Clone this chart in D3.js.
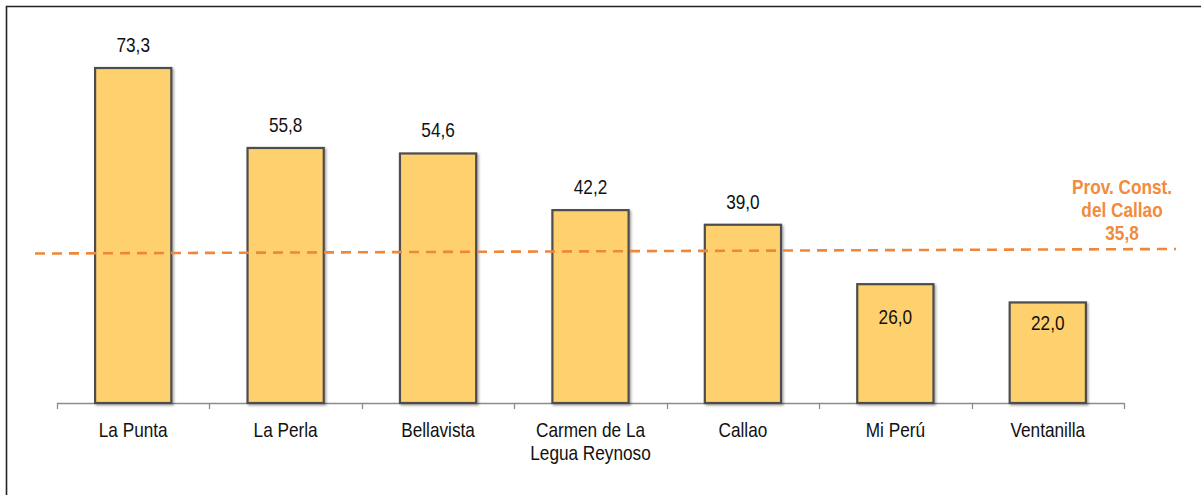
<!DOCTYPE html>
<html><head><meta charset="utf-8">
<script src="https://cdn.jsdelivr.net/npm/d3@7"></script>
<style>body{margin:0;background:#fff}svg{display:block}text{font-family:"Liberation Sans",Arial,sans-serif}</style>
</head><body>
<svg id="c" width="1201" height="495"></svg>
<script>
const categories = ["La Punta","La Perla","Bellavista","Carmen de La\nLegua Reynoso","Callao","Mi Perú","Ventanilla"];
const values = [73.3, 55.8, 54.6, 42.2, 39.0, 26.0, 22.0];
const labelInside = [false,false,false,false,false,true,true];
const provValue = 35.8;
const provLabel = ["Prov. Const.","del Callao","35,8"];
const provLineEnds = [32.7, 33.7]; // drawn level at left and right end

const fmt = v => v.toFixed(1).replace(".", ",");
const svg = d3.select("#c");
const NARROW = 0.82;

// narrow text helper: places text at (px,py) condensed horizontally
function ntext(sel, px, py) {
  return sel.append("g").attr("transform",`translate(${px},${py}) scale(${NARROW},1)`).append("text").attr("x",0).attr("y",0);
}

// frame
svg.append("path").attr("d","M6.5,500 V6.5 H1210").attr("fill","none").attr("stroke","#222").attr("stroke-width",1.6);

const x = d3.scaleBand().domain(categories).range([57,1124]).paddingInner(0.5).paddingOuter(0.25);
const y = d3.scaleLinear().domain([0,73.3]).range([403,68]);

const defs = svg.append("defs");
const f = defs.append("filter").attr("id","sh").attr("x","-10%").attr("y","-10%").attr("width","130%").attr("height","130%");
f.append("feDropShadow").attr("dx",1.5).attr("dy",1.5).attr("stdDeviation",1).attr("flood-color","#000").attr("flood-opacity",0.35);

// axis
const axis = svg.append("g");
axis.append("line").attr("x1",57).attr("x2",1124).attr("y1",403.5).attr("y2",403.5).attr("stroke","#8c8c8c").attr("stroke-width",1.3);
const bounds = categories.map((c,i) => i===0 ? 57 : x(c) - x.step()*x.paddingInner()/2);
bounds.push(1124);
axis.selectAll("line.t").data(bounds).enter().append("line").attr("class","t")
  .attr("x1",d=>Math.round(d)+0.5).attr("x2",d=>Math.round(d)+0.5).attr("y1",403).attr("y2",409)
  .attr("stroke","#8c8c8c").attr("stroke-width",1.3);

// bars
svg.selectAll("rect.bar").data(values).enter().append("rect").attr("class","bar")
  .attr("x",(d,i)=>x(categories[i])).attr("width",x.bandwidth())
  .attr("y",d=>y(d)).attr("height",d=>y(0)-y(d))
  .attr("fill","#FFD06E").attr("stroke","#4d4d4d").attr("stroke-width",2.2)
  .attr("filter","url(#sh)");

// value labels
values.forEach((d,i)=>{
  const cx = x(categories[i])+x.bandwidth()/2;
  const cy = labelInside[i] ? y(d)+(i===5?40:28) : y(d)-16;
  ntext(svg,cx,cy).attr("text-anchor","middle").attr("font-size",21).attr("fill","#111").text(fmt(d));
});

// category labels
categories.forEach((c,i)=>{
  const cx = x(c)+x.bandwidth()/2;
  const t = ntext(svg,cx,437).attr("text-anchor","middle").attr("font-size",21).attr("fill","#111");
  c.split("\n").forEach((ln,j)=>t.append("tspan").attr("x",0).attr("dy",j?23:0).text(ln));
});

// province line
svg.append("line").attr("x1",35).attr("x2",1176)
  .attr("y1",y(provLineEnds[0])).attr("y2",y(provLineEnds[1]))
  .attr("stroke","#F0863A").attr("stroke-width",2.6).attr("stroke-dasharray","10,7");

const pt = ntext(svg,1122,194).attr("text-anchor","middle").attr("font-size",21).attr("font-weight","bold").attr("fill","#F28B3C");
provLabel.forEach((ln,j)=>pt.append("tspan").attr("x",0).attr("y",j*23).text(j===2?fmt(provValue):ln));
</script>
</body></html>
